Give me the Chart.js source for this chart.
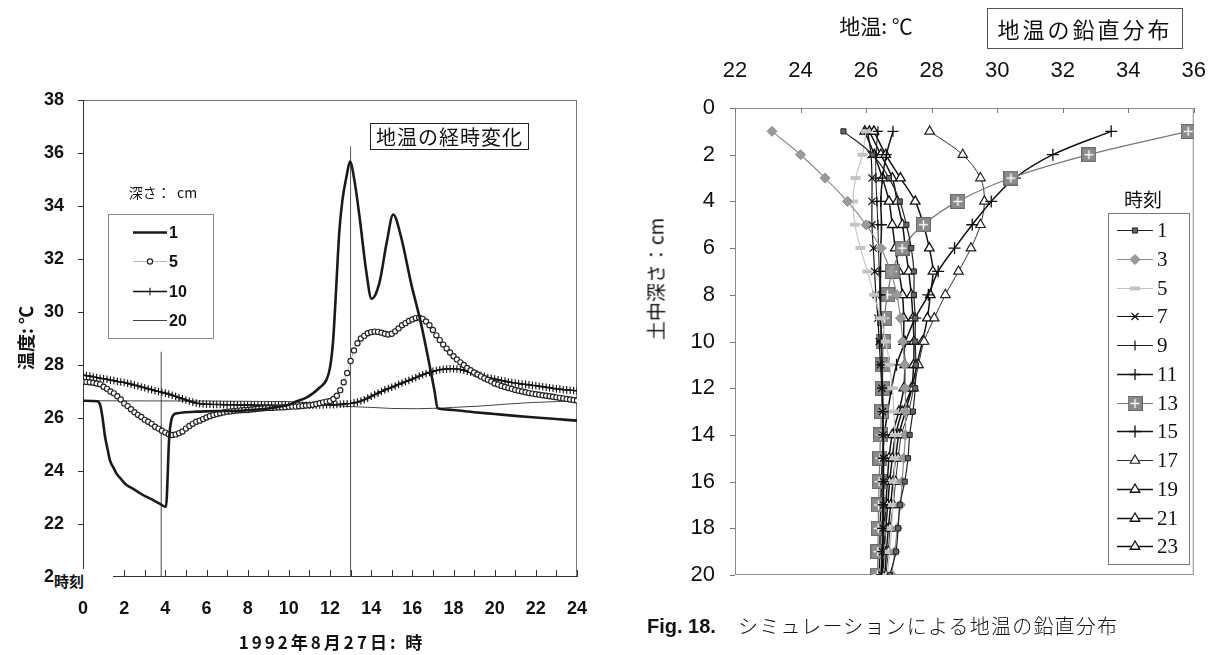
<!DOCTYPE html>
<html>
<head>
<meta charset="utf-8">
<script src="https://cdn.jsdelivr.net/npm/chart.js@4.4.1/dist/chart.umd.min.js"></script>
<style>
  html, body { margin: 0; padding: 0; background: #fff; }
  #wrap { position: relative; width: 1230px; height: 655px; overflow: hidden; background: #fff; }
  canvas { position: absolute; }
  .t { position: absolute; white-space: nowrap; color: #111; font-family: "Noto Sans CJK JP", "Liberation Sans", sans-serif; line-height: 1; }
  .rot { transform: translate(-50%, -50%) rotate(-90deg); }
  .ctr { transform: translate(-50%, -50%); }
</style>
</head>
<body>
<div id="wrap">
  <canvas id="left" width="610" height="655" style="left:0;top:0;width:610px;height:655px"></canvas>
  <canvas id="right" width="620" height="655" style="left:610px;top:0;width:620px;height:655px"></canvas>

  <!-- left panel texts -->
  <div class="t rot" style="left:25px;top:338px;font-size:18px;font-weight:700;">温度: ℃</div>
  <div class="t ctr" style="left:332px;top:641px;font-size:17px;font-weight:700;letter-spacing:3px;">1992年8月27日: 時</div>
  <div class="t" style="left:370px;top:123px;width:157px;height:25px;border:1px solid #222;font-size:20px;text-align:center;line-height:25px;letter-spacing:1px;">地温の経時変化</div>
  <div class="t ctr" style="left:163px;top:192px;font-size:14px;">深さ：&nbsp; cm</div>
  <div class="t" style="left:54px;top:569px;width:59px;height:22px;background:#fff;font-size:15px;font-weight:700;line-height:23px;">時刻</div>

  <!-- right panel texts -->
  <div class="t ctr" style="left:876px;top:25px;font-size:21px;">地温: ℃</div>
  <div class="t" style="left:987px;top:8px;width:194px;height:39px;border:1px solid #555;font-size:22px;text-align:center;line-height:39px;letter-spacing:3px;">地温の鉛直分布</div>
  <div class="t rot" style="left:655px;top:279px;font-size:19px;">土中深さ：cm</div>
  <div class="t" style="left:647px;top:616px;font-size:20px;font-weight:700;font-family:'Liberation Sans',sans-serif;">Fig. 18.</div>
  <div class="t" style="left:738px;top:616px;font-size:20px;font-weight:300;letter-spacing:1.2px;">シミュレーションによる地温の鉛直分布</div>
</div>

<script>
// ---------- Left panel: soil temperature time series (1992-08-27) ----------
const depthLabels = ['1', '5', '10', '20'];

// 1 cm depth: hour / temperature pairs
const hours1cm = [0, 0.7, 0.85, 0.95, 1.07, 1.2, 1.31, 1.5, 1.63, 1.9, 2.12, 2.5, 2.77, 3.1, 3.41, 3.7, 4.03,
  4.19, 4.3, 4.4, 4.6, 4.86, 5.5, 6.5, 7.5, 8.5, 9.0, 9.55, 10.0, 10.36, 10.8, 11.17, 11.5, 11.82, 12.0,
  12.15, 12.3, 12.45, 12.6, 12.8, 12.97, 13.2, 13.45, 13.75, 14.02, 14.4, 14.75, 15.07, 15.45, 15.94,
  16.42, 16.82, 17.07, 17.23, 17.5, 18, 19, 20, 21, 22, 23, 24];
const temp1cm = [26.65, 26.63, 26.45, 26.0, 25.3, 24.8, 24.4, 24.1, 23.9, 23.65, 23.47, 23.3, 23.16, 23.02, 22.9, 22.78, 22.65,
  25.3, 25.95, 26.12, 26.18, 26.21, 26.24, 26.26, 26.27, 26.32, 26.36, 26.43, 26.5, 26.62, 26.75, 26.93, 27.15, 27.43, 27.9,
  28.9, 30.9, 33.0, 34.2, 35.1, 35.68, 34.9, 33.5, 31.6, 30.5, 31.1, 32.6, 33.68, 32.84, 31.08,
  29.57, 28.06, 27.06, 26.37, 26.33, 26.3, 26.22, 26.15, 26.08, 26.02, 25.96, 25.9];

// 5 cm and 10 cm depths: one reading every 10 minutes, 00:00 to 24:00
const temp5cm = [
  27.37, 27.36, 27.35, 27.33, 27.30, 27.27,
  27.18, 27.10, 27.00, 26.93, 26.82, 26.70,
  26.55, 26.45, 26.33, 26.22, 26.12, 26.04,
  25.93, 25.86, 25.78, 25.67, 25.60, 25.52,
  25.45, 25.39, 25.36, 25.38, 25.43, 25.49,
  25.60, 25.70, 25.78, 25.86, 25.90, 25.96,
  26.02, 26.07, 26.11, 26.15, 26.18, 26.21,
  26.24, 26.25, 26.27, 26.28, 26.29, 26.30,
  26.30, 26.32, 26.33, 26.35, 26.36, 26.37,
  26.38, 26.38, 26.39, 26.40, 26.40, 26.41,
  26.42, 26.43, 26.43, 26.44, 26.45, 26.47,
  26.48, 26.50, 26.53, 26.56, 26.59, 26.62,
  26.64, 26.72, 26.84, 27.05, 27.35, 27.70,
  28.15, 28.55, 28.82, 29.00, 29.10, 29.20,
  29.24, 29.26, 29.25, 29.22, 29.18, 29.15,
  29.18, 29.27, 29.38, 29.50, 29.58, 29.66,
  29.72, 29.77, 29.79, 29.74, 29.64, 29.50,
  29.32, 29.12, 28.94, 28.77, 28.62, 28.47,
  28.33, 28.21, 28.10, 28.00, 27.89, 27.80,
  27.72, 27.64, 27.57, 27.50, 27.44, 27.38,
  27.30, 27.26, 27.21, 27.17, 27.13, 27.10,
  27.06, 27.03, 27.00, 26.97, 26.94, 26.92,
  26.90, 26.88, 26.86, 26.84, 26.82, 26.80,
  26.78, 26.76, 26.74, 26.72, 26.70, 26.68,
  26.66];
const temp10cm = [
  27.62, 27.60, 27.58, 27.55, 27.53, 27.50,
  27.48, 27.46, 27.43, 27.41, 27.38, 27.36,
  27.34, 27.31, 27.28, 27.24, 27.21, 27.17,
  27.14, 27.10, 27.07, 27.03, 27.00, 26.97,
  26.94, 26.90, 26.86, 26.82, 26.77, 26.72,
  26.68, 26.64, 26.60, 26.56, 26.54, 26.53,
  26.52, 26.52, 26.51, 26.51, 26.51, 26.50,
  26.50, 26.50, 26.50, 26.49, 26.49, 26.49,
  26.49, 26.49, 26.48, 26.48, 26.48, 26.48,
  26.48, 26.48, 26.47, 26.47, 26.47, 26.47,
  26.47, 26.47, 26.47, 26.47, 26.48, 26.48,
  26.48, 26.48, 26.49, 26.49, 26.49, 26.50,
  26.50, 26.50, 26.51, 26.52, 26.53, 26.54,
  26.55, 26.57, 26.60, 26.64, 26.69, 26.75,
  26.82, 26.88, 26.94, 27.00, 27.06, 27.11,
  27.16, 27.21, 27.27, 27.32, 27.37, 27.42,
  27.47, 27.52, 27.58, 27.63, 27.68, 27.72,
  27.76, 27.79, 27.82, 27.84, 27.85, 27.86,
  27.86, 27.85, 27.83, 27.80, 27.77, 27.73,
  27.69, 27.65, 27.61, 27.57, 27.53, 27.50,
  27.47, 27.44, 27.41, 27.39, 27.36, 27.34,
  27.32, 27.30, 27.28, 27.27, 27.25, 27.23,
  27.22, 27.20, 27.18, 27.16, 27.14, 27.12,
  27.10, 27.09, 27.07, 27.06, 27.05, 27.04,
  27.03];

// 20 cm depth: hour / temperature pairs
const hours20cm = [0, 6, 10, 11, 12, 13, 14, 15, 16.2, 17.3, 18, 19.3, 20.5, 21.7, 23, 24];
const temp20cm = [26.65, 26.64, 26.62, 26.57, 26.48, 26.43, 26.4, 26.36, 26.35, 26.37, 26.4, 26.45, 26.52, 26.58, 26.62, 26.65];

// marker lines at 03:48 and 13:00
const markHours = [3.8, 13.0];
const markTops = [28.5, 36.25];

const leftXTicks = [0, 2, 4, 6, 8, 10, 12, 14, 16, 18, 20, 22, 24];
const leftYTicks = [20, 22, 24, 26, 28, 30, 32, 34, 36, 38];

// ---------- Right panel: vertical soil temperature profiles ----------
const depthsCm = [1, 2, 3, 4, 5, 6, 7, 8, 9, 10, 11, 12, 13, 14, 15, 16, 17, 18, 19, 20];
const hourLabels = ['1', '3', '5', '7', '9', '11', '13', '15', '17', '19', '21', '23'];
const prof01 = [25.31, 26.20, 26.70, 27.03, 27.23, 27.38, 27.46, 27.46, 27.50, 27.50, 27.52, 27.50, 27.43, 27.33, 27.28, 27.18, 27.03, 26.98, 26.91, 26.73];
const prof03 = [23.13, 24.00, 24.75, 25.43, 26.00, 26.45, 26.75, 26.94, 27.05, 27.12, 27.18, 27.20, 27.20, 27.20, 27.15, 27.10, 27.05, 26.95, 26.88, 26.78];
const prof05 = [26.00, 25.89, 25.68, 25.60, 25.66, 25.83, 26.04, 26.24, 26.45, 26.60, 26.72, 26.80, 26.85, 26.88, 26.88, 26.85, 26.82, 26.78, 26.72, 26.65];
const prof07 = [26.05, 26.15, 26.18, 26.18, 26.18, 26.22, 26.26, 26.30, 26.36, 26.40, 26.44, 26.48, 26.50, 26.52, 26.53, 26.53, 26.53, 26.52, 26.50, 26.48];
const prof09 = [26.36, 26.30, 26.30, 26.33, 26.36, 26.38, 26.40, 26.42, 26.44, 26.46, 26.48, 26.50, 26.52, 26.53, 26.54, 26.54, 26.54, 26.53, 26.52, 26.50];
const prof11 = [26.82, 26.62, 26.50, 26.45, 26.47, 26.45, 26.44, 26.44, 26.45, 26.47, 26.48, 26.50, 26.51, 26.52, 26.52, 26.52, 26.51, 26.50, 26.49, 26.47];
const prof13 = [35.83, 32.80, 30.42, 28.80, 27.75, 27.10, 26.80, 26.65, 26.56, 26.52, 26.51, 26.50, 26.47, 26.44, 26.42, 26.40, 26.38, 26.37, 26.36, 26.35];
const prof15 = [33.48, 31.70, 30.54, 29.82, 29.24, 28.70, 28.20, 27.90, 27.50, 27.20, 26.93, 26.78, 26.66, 26.56, 26.50, 26.47, 26.45, 26.43, 26.42, 26.40];
const prof17 = [27.94, 28.95, 29.49, 29.61, 29.49, 29.20, 28.82, 28.42, 28.08, 27.77, 27.60, 27.45, 27.30, 27.08, 26.98, 26.90, 26.83, 26.73, 26.68, 26.60];
const prof19 = [26.24, 26.60, 27.05, 27.50, 27.75, 27.93, 28.04, 27.96, 27.87, 27.72, 27.55, 27.40, 27.20, 27.00, 26.90, 26.82, 26.75, 26.68, 26.62, 26.58];
const prof21 = [26.10, 26.45, 26.80, 26.95, 27.11, 27.20, 27.30, 27.38, 27.43, 27.46, 27.45, 27.38, 27.10, 26.90, 26.80, 26.72, 26.66, 26.60, 26.55, 26.52];
const prof23 = [25.96, 26.25, 26.50, 26.70, 26.80, 26.89, 27.00, 27.11, 27.15, 27.15, 27.18, 27.15, 27.00, 26.80, 26.70, 26.65, 26.60, 26.55, 26.50, 26.45];

const rightXTicks = [22, 24, 26, 28, 30, 32, 34, 36];
const rightYTicks = [0, 2, 4, 6, 8, 10, 12, 14, 16, 18, 20];

// ---------- helpers ----------
const H = Chart.helpers;
function seg(ctx, x1, y1, x2, y2) { ctx.beginPath(); ctx.moveTo(x1, y1); ctx.lineTo(x2, y2); ctx.stroke(); }
function pairs(xs, ys) { return xs.map((x, i) => ({ x: x, y: ys[i] })); }
function marker(ctx, ds, x, y) {
  if (!ds.pointStyle || !ds.pointRadius) return;
  ctx.save();
  ctx.fillStyle = ds.pointBackgroundColor || '#fff';
  ctx.strokeStyle = ds.pointBorderColor || ds.borderColor;
  ctx.lineWidth = ds.pointBorderWidth || 1;
  H.drawPoint(ctx, { pointStyle: ds.pointStyle, radius: ds.pointRadius, rotation: 0, borderWidth: ctx.lineWidth }, x, y);
  ctx.restore();
}

// gray square with a white cross, used for the 13 o'clock profile
const squarePlus = document.createElement('canvas');
squarePlus.width = 15; squarePlus.height = 15;
(function () {
  const c = squarePlus.getContext('2d');
  c.fillStyle = '#8a8a8a'; c.fillRect(0, 0, 15, 15);
  c.strokeStyle = '#6a6a6a'; c.lineWidth = 1; c.strokeRect(0.5, 0.5, 14, 14);
  c.strokeStyle = '#fff'; c.lineWidth = 1.4;
  seg(c, 7.5, 3, 7.5, 12); seg(c, 3, 7.5, 12, 7.5);
})();

// ---------- left chart ----------
const sampleHours = temp5cm.map((_, i) => i / 6);

const leftFrame = {
  id: 'leftFrame',
  beforeDatasetsDraw(chart) {
    const { ctx, chartArea: a, scales: { x, y } } = chart;
    ctx.save();
    ctx.strokeStyle = '#777'; ctx.lineWidth = 1;
    seg(ctx, a.left, a.top + 0.5, a.right, a.top + 0.5);
    seg(ctx, a.right - 0.5, a.top, a.right - 0.5, a.bottom);
    ctx.strokeStyle = '#333';
    seg(ctx, a.left + 0.5, a.top, a.left + 0.5, a.bottom);
    seg(ctx, a.left, a.bottom - 0.5, a.right, a.bottom - 0.5);
    x.ticks.forEach(t => {
      const px = Math.round(x.getPixelForValue(t.value)) + 0.5;
      seg(ctx, px, a.bottom, px, a.bottom - 7);
    });
    leftYTicks.forEach(v => {
      const py = Math.round(y.getPixelForValue(v)) + 0.5;
      seg(ctx, a.left - 5, py, a.left, py);
    });
    ctx.restore();
  }
};

const leftLegend = {
  id: 'leftLegend',
  afterDraw(chart) {
    const ctx = chart.ctx;
    ctx.save();
    ctx.strokeStyle = '#888'; ctx.lineWidth = 1;
    ctx.strokeRect(108.5, 214.5, 105, 124);
    depthLabels.forEach((lab, i) => {
      const ds = chart.data.datasets[i];
      const y = Math.round(231.5 + i * 29.5) + 0.5;
      ctx.strokeStyle = ds.borderColor; ctx.lineWidth = ds.borderWidth;
      seg(ctx, 133, y, 167, y);
      marker(ctx, ds, 150, y);
      ctx.fillStyle = '#111';
      ctx.font = 'bold 16px "Liberation Sans", sans-serif';
      ctx.textBaseline = 'middle'; ctx.textAlign = 'left';
      ctx.fillText(lab, 169, y + 1);
    });
    ctx.restore();
  }
};

new Chart(document.getElementById('left'), {
  type: 'scatter',
  data: {
    datasets: [
      { label: depthLabels[0], data: pairs(hours1cm, temp1cm), showLine: true, borderColor: '#1a1a1a', borderWidth: 2.6,
        pointRadius: 0, cubicInterpolationMode: 'monotone' },
      { label: depthLabels[1], data: pairs(sampleHours, temp5cm), showLine: true, borderColor: '#b8b8b8', borderWidth: 1,
        pointStyle: 'circle', pointRadius: 2.6, pointBorderColor: '#222', pointBackgroundColor: '#fff', pointBorderWidth: 1.15 },
      { label: depthLabels[2], data: pairs(sampleHours, temp10cm), showLine: true, borderColor: '#111', borderWidth: 1.4,
        pointStyle: 'cross', pointRadius: 3.8, pointBorderColor: '#111', pointBorderWidth: 1.1 },
      { label: depthLabels[3], data: pairs(hours20cm, temp20cm), showLine: true, borderColor: '#444', borderWidth: 1,
        pointRadius: 0 },
      { label: 'mark', data: [{ x: markHours[0], y: 20 }, { x: markHours[0], y: markTops[0] }], showLine: true,
        borderColor: '#444', borderWidth: 1, pointRadius: 0 },
      { label: 'mark', data: [{ x: markHours[1], y: 20 }, { x: markHours[1], y: markTops[1] }], showLine: true,
        borderColor: '#555', borderWidth: 1, pointRadius: 0 }
    ]
  },
  options: {
    responsive: false, animation: false, devicePixelRatio: 1,
    layout: { padding: { top: 100, right: 33, bottom: 0, left: 0 } },
    plugins: { legend: { display: false }, tooltip: { enabled: false } },
    scales: {
      x: {
        type: 'linear', min: 0, max: 24,
        afterFit: s => { s.height = 78; },
        grid: { display: false, drawTicks: false }, border: { display: false },
        ticks: { stepSize: 1, autoSkip: false, maxRotation: 0, padding: 21, color: '#111',
          font: { family: 'Liberation Sans', size: 18, weight: 'bold' },
          callback: v => leftXTicks.includes(v) ? String(v) : '' }
      },
      y: {
        min: 20, max: 38,
        afterFit: s => { s.width = 83; },
        grid: { display: false, drawTicks: false }, border: { display: false },
        ticks: { stepSize: 2, padding: 19, color: '#111',
          font: { family: 'Liberation Sans', size: 18, weight: 'bold' },
          callback: v => leftYTicks.includes(v) ? String(v) : '' }
      }
    }
  },
  plugins: [leftFrame, leftLegend]
});

// ---------- right chart ----------
const profiles = [prof01, prof03, prof05, prof07, prof09, prof11, prof13, prof15, prof17, prof19, prof21, prof23];
const profStyles = [
  { borderColor: '#222', borderWidth: 1.2, pointStyle: 'rect', pointRadius: 3.6, pointBackgroundColor: '#666', pointBorderColor: '#222', pointBorderWidth: 1 },
  { borderColor: '#8c8c8c', borderWidth: 1.2, pointStyle: 'rectRot', pointRadius: 5, pointBackgroundColor: '#9a9a9a', pointBorderColor: '#8c8c8c', pointBorderWidth: 1 },
  { borderColor: '#c4c4c4', borderWidth: 1.2, pointStyle: 'line', pointRadius: 5, pointBackgroundColor: '#c4c4c4', pointBorderColor: '#c4c4c4', pointBorderWidth: 4 },
  { borderColor: '#111', borderWidth: 1.2, pointStyle: 'crossRot', pointRadius: 5, pointBackgroundColor: '#fff', pointBorderColor: '#111', pointBorderWidth: 1.2 },
  { borderColor: '#222', borderWidth: 1, pointStyle: 'cross', pointRadius: 5, pointBackgroundColor: '#fff', pointBorderColor: '#111', pointBorderWidth: 1.2 },
  { borderColor: '#111', borderWidth: 1.5, pointStyle: 'cross', pointRadius: 5.5, pointBackgroundColor: '#fff', pointBorderColor: '#111', pointBorderWidth: 1.3 },
  { borderColor: '#777', borderWidth: 1.2, pointStyle: squarePlus, pointRadius: 7, pointBackgroundColor: '#8a8a8a', pointBorderColor: '#777', pointBorderWidth: 1 },
  { borderColor: '#111', borderWidth: 1.5, pointStyle: 'cross', pointRadius: 6, pointBackgroundColor: '#fff', pointBorderColor: '#111', pointBorderWidth: 1.3 },
  { borderColor: '#333', borderWidth: 1, pointStyle: 'triangle', pointRadius: 5.5, pointBackgroundColor: '#fff', pointBorderColor: '#222', pointBorderWidth: 1.2 },
  { borderColor: '#111', borderWidth: 1.5, pointStyle: 'triangle', pointRadius: 5.5, pointBackgroundColor: '#fff', pointBorderColor: '#111', pointBorderWidth: 1.3 },
  { borderColor: '#111', borderWidth: 1.5, pointStyle: 'triangle', pointRadius: 5.5, pointBackgroundColor: '#fff', pointBorderColor: '#111', pointBorderWidth: 1.3 },
  { borderColor: '#111', borderWidth: 1.5, pointStyle: 'triangle', pointRadius: 5.5, pointBackgroundColor: '#fff', pointBorderColor: '#111', pointBorderWidth: 1.3 }
];

const rightFrame = {
  id: 'rightFrame',
  beforeDatasetsDraw(chart) {
    const { ctx, chartArea: a, scales: { x, y } } = chart;
    ctx.save();
    ctx.strokeStyle = '#8a8a8a'; ctx.lineWidth = 1;
    ctx.strokeRect(a.left + 0.5, a.top + 0.5, a.right - a.left - 1, a.bottom - a.top - 1);
    ctx.strokeStyle = '#777';
    rightXTicks.forEach(v => {
      const px = Math.round(x.getPixelForValue(v)) + 0.5;
      seg(ctx, px, a.top, px, a.top + 5);
    });
    rightYTicks.forEach(v => {
      const py = Math.round(y.getPixelForValue(v)) + 0.5;
      seg(ctx, a.left - 5, py, a.left, py);
    });
    ctx.restore();
  }
};

const rightLegend = {
  id: 'rightLegend',
  afterDraw(chart) {
    const ctx = chart.ctx;
    ctx.save();
    ctx.fillStyle = '#fff';
    ctx.fillRect(498, 213, 81, 351);
    ctx.strokeStyle = '#777'; ctx.lineWidth = 1;
    ctx.strokeRect(498.5, 213.5, 81, 351);
    ctx.fillStyle = '#111';
    ctx.font = '19px "Noto Sans CJK JP", sans-serif';
    ctx.textAlign = 'center'; ctx.textBaseline = 'middle';
    ctx.fillText('時刻', 533, 200);
    hourLabels.forEach((lab, i) => {
      const ds = chart.data.datasets[i];
      const y = Math.round(230 + i * 28.75) + 0.5;
      ctx.strokeStyle = ds.borderColor; ctx.lineWidth = ds.borderWidth;
      seg(ctx, 507, y, 543, y);
      marker(ctx, ds, 525, y);
      ctx.fillStyle = '#111';
      ctx.font = '21px "Liberation Serif", serif';
      ctx.textAlign = 'left'; ctx.textBaseline = 'middle';
      ctx.fillText(lab, 547, y + 1);
    });
    ctx.restore();
  }
};

new Chart(document.getElementById('right'), {
  type: 'scatter',
  data: {
    datasets: profiles.map((p, i) => Object.assign({
      label: hourLabels[i],
      data: pairs(p, depthsCm),
      showLine: true,
      tension: 0.35
    }, profStyles[i]))
  },
  options: {
    responsive: false, animation: false, devicePixelRatio: 1,
    layout: { padding: { top: 0, right: 28, bottom: 80, left: 0 } },
    plugins: { legend: { display: false }, tooltip: { enabled: false } },
    scales: {
      x: {
        type: 'linear', position: 'top', min: 22, max: 36,
        afterFit: s => { s.height = 108; },
        grid: { display: false, drawTicks: false }, border: { display: false },
        ticks: { stepSize: 2, padding: 24, color: '#111', maxRotation: 0,
          font: { family: 'Liberation Sans', size: 22 } }
      },
      y: {
        type: 'linear', reverse: true, min: 0, max: 20,
        afterFit: s => { s.width = 125; },
        grid: { display: false, drawTicks: false }, border: { display: false },
        ticks: { stepSize: 2, padding: 20, color: '#111',
          font: { family: 'Liberation Sans', size: 22 } }
      }
    }
  },
  plugins: [rightFrame, rightLegend]
});
</script>
</body>
</html>
